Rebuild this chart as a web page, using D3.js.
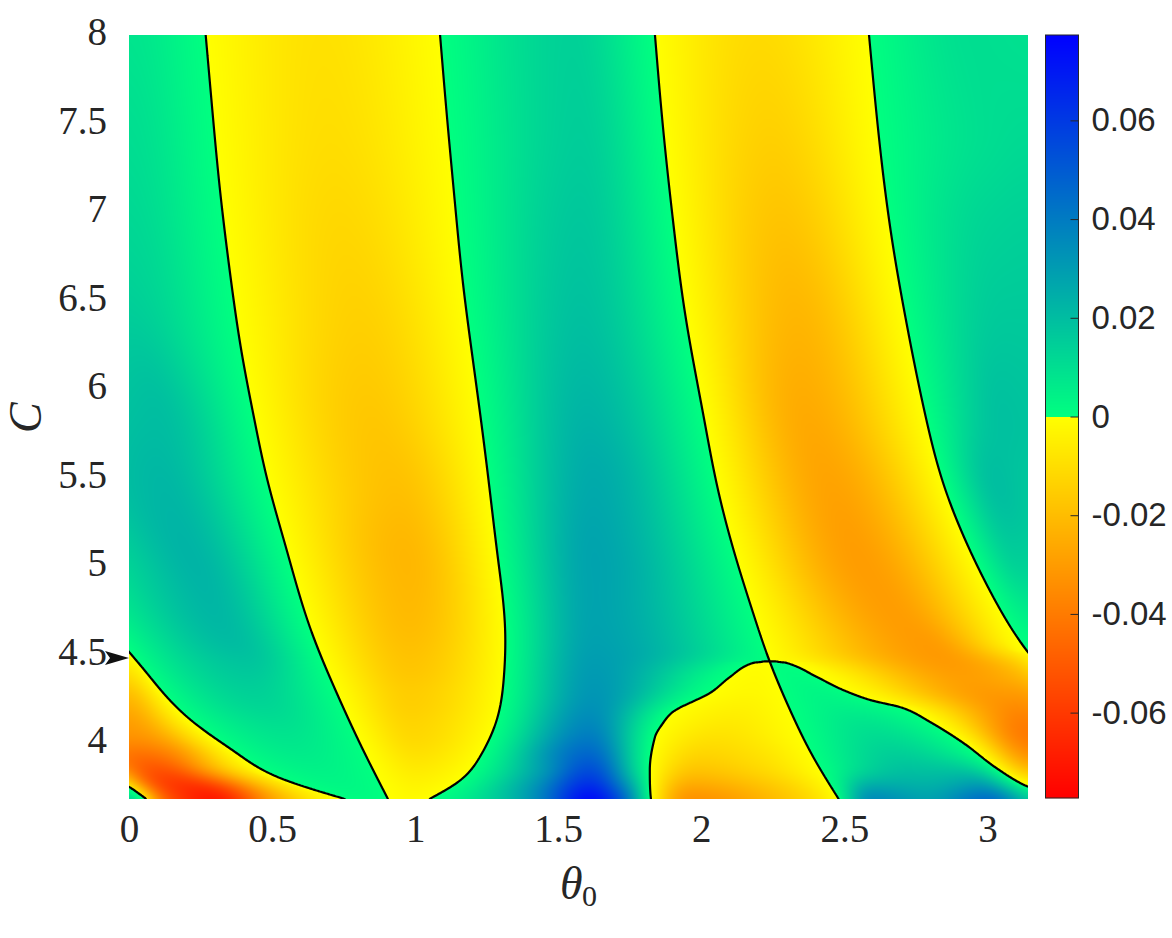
<!DOCTYPE html>
<html><head><meta charset="utf-8">
<script src="https://cdn.jsdelivr.net/npm/d3@7"></script>
<style>html,body{margin:0;padding:0;background:#fff}svg{display:block}</style>
</head><body><svg id="c" width="1172" height="938"></svg>
<script>
// ---- values ----
const thetaTicks = [0,0.5,1,1.5,2,2.5,3];
const cTicks = [4,4.5,5,5.5,6,6.5,7,7.5,8];
const barTicks = [-0.06,-0.04,-0.02,0,0.02,0.04,0.06];
const thetaDomain = [0, Math.PI];
const cDomain = [3.659, 8];
const colorLimit = 0.0773;
const arrowC = 4.46;
const P = Math.PI;
const tangentC = 4.443;
// sign-change lines as [C, theta]; parts beyond 0..pi lie outside the frame
const lineA  = [[3.659,.06],[3.73,0],[4,-.3],[5,-.8],[8,-2]];
const lineB  = [[3.659,.755],[3.778,.528],[3.92,.376],[4.08,.237],[4.261,.12],[4.375,.062],[4.489,.003],[4.6,-.055],[4.8,-.15],[5.2,-.35],[6,-.7],[8,-1.5]];
const lineC  = [[3.659,.905],[3.938,.818],[4.261,.726],[4.636,.632],[5.074,.551],[5.489,.481],[5.824,.437],[6.193,.394],[6.648,.353],[7.119,.318],[7.614,.289],[8,.268]];
const lineD  = [[3.659,1.05],[3.75,1.145],[3.898,1.226],[4.108,1.285],[4.352,1.31],[4.636,1.314],[5.017,1.29],[5.489,1.255],[5.824,1.229],[6.21,1.197],[6.591,1.167],[7.045,1.139],[7.557,1.11],[8,1.087]];
const lineE  = [[3.659,2.48],[3.898,2.391],[4.165,2.31],[4.449,2.237],[4.716,2.181],[5.017,2.123],[5.455,2.053],[5.824,2.009],[6.42,1.943],[6.932,1.902],[7.46,1.867],[8,1.838]];
const lineF  = [[3.659,3.6],[4,3.4],[4.3,3.24],[4.494,3.141],[4.807,3.02],[5.114,2.927],[5.455,2.845],[5.824,2.785],[6.364,2.717],[6.852,2.665],[7.46,2.618],[8,2.586]];
const lineGl = [[3.659,1.824],[3.824,1.82],[4.011,1.838],[4.09,1.866],[4.148,1.896],[4.178,1.925],[4.205,1.96],[4.261,2.03],[4.352,2.10],[4.426,2.17],[4.4375,2.198],[4.443,2.24]];
const lineGr = [[3.659,3.25],[3.727,P],[3.835,3.031],[3.977,2.916],[4.097,2.799],[4.176,2.705],[4.222,2.589],[4.278,2.496],[4.352,2.404],[4.426,2.31],[4.4375,2.282],[4.443,2.24]];
// value profiles: C levels and [theta, value] extremes along each level, bottom to top
const levelsC = [3.659,3.73,3.82,3.91,4.01,4.10,4.20,4.26,4.35,4.392,4.426,4.4375,4.443,4.51,4.72,5.02,5.45,5.82,6.42,6.93,7.46,8];
const profile366 = [[0,.02],[.126,-.045],[.30,-.072],[.53,-.025],[.83,.0006],[.98,-.0012],[1.296,.017],[1.436,.038],[1.61,.077],[1.716,.055],[1.785,.02],[1.96,-.035],[2.27,-.02],[2.589,.038],[2.799,.029],[3.008,.049],[P,.022]];
const profile373 = [[.04,-.03],[.12,-.06],[.27,-.065],[.46,-.025],[.75,.0025],[1.0,-.003],[1.4,.03],[1.61,.065],[1.75,.03],[1.96,-.027],[2.25,-.017],[2.589,.027],[2.799,.024],[3.0,.032]];
const profile382 = [[0,-.04],[.12,-.055],[.28,-.025],[.67,.004],[1.0,-.006],[1.45,.03],[1.61,.055],[1.98,-.018],[2.2,-.012],[2.72,.019],[2.9,.019],[P,-.02]];
const profile391 = [[0,-.044],[.13,-.04],[.6,.006],[1.0,-.009],[1.61,.047],[2.0,-.013],[2.2,-.009],[2.68,.015],[P,-.034]];
const profile401 = [[0,-.033],[.1,-.028],[.55,.008],[.99,-.012],[1.61,.040],[2.05,-.009],[2.62,.011],[P,-.042]];
const profile410 = [[0,-.03],[.52,.010],[.98,-.013],[1.61,.036],[2.1,-.006],[2.56,.008],[P,-.04]];
const profile420 = [[0,-.024],[.46,.013],[.98,-.015],[1.62,.033],[2.15,-.0035],[2.46,.004],[3.08,-.034],[P,-.034]];
const profile426 = [[0,-.02],[.44,.014],[.98,-.015],[1.62,.032],[2.17,-.002],[2.41,.003],[3.0,-.031],[P,-.03]];
const profile435 = [[0,-.012],[.42,.016],[.98,-.017],[1.62,.031],[2.19,-.0012],[2.33,.0012],[2.92,-.029],[P,-.02]];
const profile439 = [[0,-.009],[.42,.017],[.98,-.0175],[1.62,.0305],[2.19,-.0008],[2.3,.0008],[2.88,-.03],[P,-.016]];
const profile442 = [[0,-.006],[.42,.0175],[.98,-.018],[1.62,.030],[2.21,-.0005],[2.275,.0005],[2.86,-.031],[P,-.012]];
const profile443 = [[0,-.0045],[.42,.018],[.98,-.018],[1.62,.030],[2.22,-.0002],[2.262,.0002],[2.85,-.031],[P,-.011]];
const profile444 = [[0,-.004],[.42,.018],[.98,-.018],[1.62,.030],[2.85,-.031],[P,-.01]];
const profile451 = [[-.04,-.003],[.38,.02],[.98,-.019],[1.62,.029],[2.816,-.031],[P,.0002]];
const profile472 = [[0,.008],[.3,.022],[.98,-.021],[1.62,.028],[2.676,-.03],[P,.006]];
const profile502 = [[0,.014],[.22,.023],[.97,-.022],[1.62,.028],[2.554,-.03],[3.1,.015],[P,.014]];
const profile545 = [[0,.02],[.12,.022],[.93,-.019],[1.62,.026],[2.45,-.028],[3.03,.02],[P,.017]];
const profile582 = [[0,.019],[.1,.02],[.85,-.017],[1.6,.023],[2.37,-.026],[3.05,.019],[P,.018]];
const profile642 = [[0,.015],[.8,-.014],[1.58,.019],[2.33,-.022],[3.05,.016],[P,.016]];
const profile693 = [[0,.012],[.74,-.012],[1.58,.017],[2.28,-.018],[3.0,.013],[P,.014]];
const profile746 = [[0,.01],[.7,-.010],[1.58,.015],[2.24,-.014],[3.0,.010],[P,.011]];
const profile800 = [[0,.008],[.67,-.009],[1.55,.014],[2.2,-.011],[2.95,.01],[P,.009]];
const profiles = [profile366,profile373,profile382,profile391,profile401,profile410,profile420,profile426,profile435,profile439,profile442,profile443,profile444,profile451,profile472,profile502,profile545,profile582,profile642,profile693,profile746,profile800];

// ---- layout ----
const plot = {l:129, r:1028, t:35, b:799};
const bar = {l:1045.5, r:1078.5, t:35, b:798};
const ink = "#262626";
const x = d3.scaleLinear().domain(thetaDomain).range([plot.l, plot.r]);
const y = d3.scaleLinear().domain(cDomain).range([plot.b, plot.t]);
const barY = d3.scaleLinear().domain([-colorLimit, colorLimit]).range([bar.b, bar.t]);
const neg = d3.scaleLinear().domain([-colorLimit,0]).range(["#ff0000","#ffff00"]).clamp(true);
const pos = d3.scaleLinear().domain([0,colorLimit]).range(["#00ff80","#0000ff"]).clamp(true);
const color = v => v >= 0 ? pos(v) : neg(v);

// shape-preserving cubic through knots
function pchip(xs, ys){
  const n = xs.length, h = [], s = [], m = new Array(n);
  for(let i=0;i<n-1;i++){ h[i]=xs[i+1]-xs[i]; s[i]=(ys[i+1]-ys[i])/h[i]; }
  for(let i=1;i<n-1;i++){
    if(s[i-1]*s[i]<=0) m[i]=0;
    else { const a=2*h[i]+h[i-1], b=h[i]+2*h[i-1]; m[i]=(a+b)/(a/s[i-1]+b/s[i]); }
  }
  const edge=(h0,h1,s0,s1)=>{ let d=((2*h0+h1)*s0-h0*s1)/(h0+h1);
    if(d*s0<=0) d=0; else if(s0*s1<=0 && Math.abs(d)>3*Math.abs(s0)) d=3*s0; return d; };
  if(n>2){ m[0]=edge(h[0],h[1],s[0],s[1]); m[n-1]=edge(h[n-2],h[n-3],s[n-2],s[n-3]); }
  else { m[0]=m[1]=s[0]; }
  return hermite(xs,ys,h,m);
}
const bis = d3.bisector(d=>d).right;
function hermite(xs,ys,h,m){
  const n=xs.length;
  return t=>{
    t = Math.max(xs[0],Math.min(xs[n-1],t));
    const i = Math.min(n-2,Math.max(0,bis(xs,t)-1));
    const u=(t-xs[i])/h[i], u2=u*u, u3=u2*u;
    return (2*u3-3*u2+1)*ys[i]+(u3-2*u2+u)*h[i]*m[i]+(-2*u3+3*u2)*ys[i+1]+(u3-u2)*h[i]*m[i+1];
  };
}
// natural cubic spline, for the smooth long lines
function spline(pts){
  const xs=pts.map(d=>d[0]), ys=pts.map(d=>d[1]), n=xs.length, h=[];
  for(let i=0;i<n-1;i++) h[i]=xs[i+1]-xs[i];
  const a=new Array(n).fill(0),b=new Array(n).fill(2),c=new Array(n).fill(0),d=new Array(n).fill(0);
  b[0]=2;c[0]=1;d[0]=3*(ys[1]-ys[0])/h[0];
  for(let i=1;i<n-1;i++){ a[i]=h[i]; b[i]=2*(h[i-1]+h[i]); c[i]=h[i-1];
    d[i]=3*(h[i]*(ys[i]-ys[i-1])/h[i-1]+h[i-1]*(ys[i+1]-ys[i])/h[i]); }
  a[n-1]=1;b[n-1]=2;d[n-1]=3*(ys[n-1]-ys[n-2])/h[n-2];
  for(let i=1;i<n;i++){ const w=a[i]/b[i-1]; b[i]-=w*c[i-1]; d[i]-=w*d[i-1]; }
  const m=new Array(n); m[n-1]=d[n-1]/b[n-1];
  for(let i=n-2;i>=0;i--) m[i]=(d[i]-c[i]*m[i+1])/b[i];
  return hermite(xs,ys,h,m);
}

// sample the field: each lobe between two sign lines is followed from level to level
const pad = 6, outerL = -3, outerR = 5.2;
const W = plot.r-plot.l, H = plot.b-plot.t, nx = W+2*pad, ny = H+2*pad;
const thetaAt = d3.range(nx).map(i=>x.invert(plot.l-pad+i+.5));
const cAt = d3.range(ny).map(j=>y.invert(plot.t-pad+j+.5));
const nL = levelsC.length;
const fA=spline(lineA), fB=spline(lineB), fC=spline(lineC), fD=spline(lineD), fE=spline(lineE), fF=spline(lineF);
const fGl=pchip(lineGl.map(d=>d[0]),lineGl.map(d=>d[1])), fGr=pchip(lineGr.map(d=>d[0]),lineGr.map(d=>d[1]));
function crossingsAt(C){
  const e=fE(C), above=C>=tangentC;
  const c=[outerL,fA(C),fB(C),fC(C),fD(C),above?e:Math.min(fGl(C),e),e,above?e:Math.max(fGr(C),e),fF(C),outerR];
  for(let k=1;k<c.length;k++) if(c[k]<c[k-1]) c[k]=c[k-1];
  return c;
}
const crossings = levelsC.map(crossingsAt);
const rowFn = profiles.map((p,r)=>{
  const cr=crossings[r], seen=new Map();
  seen.set(outerL,.005); seen.set(outerR,.005);
  cr.slice(1,-1).forEach(t=>seen.set(t,0));
  p.forEach(d=>{
    let k=0; while(k<cr.length-2 && d[0]>=cr[k+1]) k++;
    const sign = k%2===0 ? 1 : -1;
    const near = cr.some(t=>Math.abs(t-d[0])<.004);
    if(d[1]*sign>0 && !near) seen.set(d[0],d[1]);
  });
  const k = Array.from(seen.entries()).sort((a,b)=>a[0]-b[0]);
  return pchip(k.map(d=>d[0]),k.map(d=>d[1]));
});
const bisC = d3.bisector(d=>d).right;
const harmonic=(s0,s1,h0,h1)=>{
  if(s0*s1<=0) return 0;
  const a=2*h1+h0,b=h1+2*h0; return (a+b)/(a/s0+b/s1);
};
const field = new Float64Array(nx*ny);
for(let j=0;j<ny;j++){
  const C = Math.max(levelsC[0],Math.min(levelsC[nL-1],cAt[j]));
  const c = crossingsAt(C);
  const r1 = Math.min(nL-2,Math.max(0,bisC(levelsC,C)-1)), r2=r1+1;
  const r0 = Math.max(0,r1-1), r3 = Math.min(nL-1,r2+1);
  const C1=levelsC[r1],C2=levelsC[r2],h=C2-C1,t=(C-C1)/h,t2=t*t,t3=t2*t;
  const h0=C1-levelsC[r0], h2=levelsC[r3]-C2;
  const cr0=crossings[r0],cr1=crossings[r1],cr2=crossings[r2],cr3=crossings[r3];
  const f0=rowFn[r0],f1=rowFn[r1],f2=rowFn[r2],f3=rowFn[r3];
  let k=0;
  for(let i=0;i<nx;i++){
    const th=thetaAt[i];
    while(k<c.length-2 && th>=c[k+1]) k++;
    const u=(th-c[k])/Math.max(1e-9,c[k+1]-c[k]);
    const at=(cr,f)=>f(cr[k]+u*(cr[k+1]-cr[k]));
    const v1=at(cr1,f1), v2=at(cr2,f2);
    const s=(v2-v1)/h;
    const m1 = h0>0 ? harmonic((v1-at(cr0,f0))/h0,s,h0,h) : s;
    const m2 = h2>0 ? harmonic(s,(at(cr3,f3)-v2)/h2,h,h2) : s;
    field[j*nx+i]=(2*t3-3*t2+1)*v1+(t3-2*t2+t)*h*m1+(-2*t3+3*t2)*v2+(t3-t2)*h*m2;
  }
}
// gentle smoothing of the colours away from the sign lines
function boxBlur(src,w,hh,r){
  let a=Float64Array.from(src), b=new Float64Array(src.length);
  const pass=(len,cnt,step,lineStep)=>{
    for(let l=0;l<cnt;l++){
      const o=l*lineStep; let sum=0;
      for(let q=-r;q<=r;q++) sum+=a[o+Math.max(0,Math.min(len-1,q))*step];
      for(let q=0;q<len;q++){
        b[o+q*step]=sum/(2*r+1);
        sum+=a[o+Math.min(len-1,q+r+1)*step]-a[o+Math.max(0,q-r)*step];
      }
    }
    [a,b]=[b,a];
  };
  for(let p=0;p<2;p++){ pass(w,hh,1,w); pass(hh,w,w,1); }
  return a;
}
const smooth = boxBlur(field,nx,ny,8);
const shown = new Float64Array(field.length);
for(let i=0;i<field.length;i++){
  const v=field[i], s=v>=0?1:-1, b=Math.max(0,smooth[i]*s), w=Math.min(1,Math.abs(v)/.005);
  shown[i]=s*(w*b+(1-w)*Math.abs(v));
}

const svg = d3.select("#c");
svg.append("rect").attr("width",1172).attr("height",938).attr("fill","#fff");

// axes (ticks are inward and sit beneath the image)
const fontNum = "'Liberation Serif',serif";
const xAxis = svg.append("g").attr("transform",`translate(0,${plot.b})`)
  .call(d3.axisBottom(x).tickValues(thetaTicks).tickFormat(d=>String(d)).tickSize(-10).tickPadding(15));
const yAxis = svg.append("g").attr("transform",`translate(${plot.l},0)`)
  .call(d3.axisLeft(y).tickValues(cTicks).tickFormat(d=>String(d)).tickSize(-10).tickPadding(22));
[xAxis,yAxis].forEach(g=>{
  g.select(".domain").remove();
  g.selectAll("line").attr("stroke",ink).attr("stroke-width",1);
  g.selectAll("text").attr("font-family",fontNum).attr("font-size",39).attr("fill",ink);
});
const labelShift = d3.scaleLinear().domain([4,8]).range([1.5,-3]);
yAxis.selectAll(".tick text").attr("transform",d=>`translate(0,${labelShift(d)})`);

// heat map
const cv = document.createElement("canvas"); cv.width=W; cv.height=H;
const ctx = cv.getContext("2d"), img = ctx.createImageData(W,H);
for(let j=0;j<H;j++) for(let i=0;i<W;i++){
  const c = d3.rgb(color(shown[(j+pad)*nx+i+pad])), k=(j*W+i)*4;
  img.data[k]=c.r; img.data[k+1]=c.g; img.data[k+2]=c.b; img.data[k+3]=255;
}
ctx.putImageData(img,0,0);
svg.append("image").attr("x",plot.l).attr("y",plot.t).attr("width",W).attr("height",H)
  .attr("href",cv.toDataURL());

// zero contour
svg.append("clipPath").attr("id","pc").append("rect")
  .attr("x",plot.l).attr("y",plot.t).attr("width",W).attr("height",H);
const zero = d3.contours().size([nx,ny]).thresholds([0])(field);
const tr = d3.geoTransform({point(a,b){this.stream.point(a+plot.l-pad,b+plot.t-pad);}});
svg.append("g").attr("clip-path","url(#pc)").selectAll("path").data(zero).join("path")
  .attr("d",d3.geoPath(tr)).attr("fill","none").attr("stroke","#000")
  .attr("stroke-width",2.2).attr("stroke-linejoin","round");

// arrow marker on the C axis
const ay = y(arrowC), ax = x(0);
svg.append("path").attr("fill","#111")
  .attr("d",`M${ax},${ay}L${ax-24},${ay-7}L${ax-19},${ay}L${ax-24},${ay+7}Z`);

// axis titles
svg.append("text").attr("x",560).attr("y",899).attr("font-family",fontNum).attr("font-style","italic")
  .attr("font-size",46).attr("fill",ink).text("θ");
svg.append("text").attr("x",582).attr("y",906).attr("font-family",fontNum)
  .attr("font-size",30).attr("fill",ink).text("0");
svg.append("text").attr("transform","translate(41,433) rotate(-90)").attr("font-family",fontNum)
  .attr("font-style","italic").attr("font-size",46).attr("fill",ink).text("C");

// colour bar
svg.append("g").selectAll("rect").data(d3.range(bar.t,bar.b)).join("rect")
  .attr("x",bar.l).attr("width",bar.r-bar.l).attr("y",d=>d).attr("height",1.2)
  .attr("fill",d=>color(barY.invert(d+.5)));
const barAxis = svg.append("g").attr("transform",`translate(${bar.r},0)`)
  .call(d3.axisRight(barY).tickValues(barTicks).tickFormat(d=>String(d)).tickSize(-8).tickPadding(13));
barAxis.select(".domain").remove();
barAxis.selectAll("line").attr("stroke",ink).attr("stroke-width",1);
barAxis.selectAll("text").attr("font-family","'Liberation Sans',Arial,sans-serif").attr("font-size",33).attr("fill",ink);
svg.append("rect").attr("x",bar.l).attr("y",bar.t).attr("width",bar.r-bar.l).attr("height",bar.b-bar.t)
  .attr("fill","none").attr("stroke",ink).attr("stroke-width",1);
</script></body></html>
